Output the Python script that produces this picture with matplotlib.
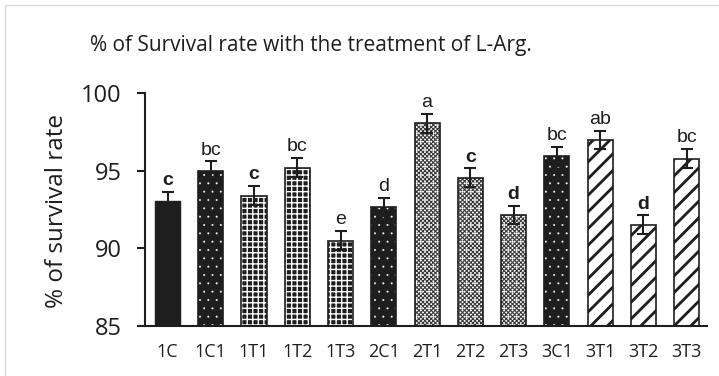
import matplotlib
matplotlib.use("Agg")
import matplotlib.pyplot as plt
from matplotlib.patches import Rectangle

plt.rcParams['font.family'] = ['Open Sans', 'DejaVu Sans']

# Survival data for each treatment group
groups = ["1C", "1C1", "1T1", "1T2", "1T3", "2C1", "2T1", "2T2", "2T3",
          "3C1", "3T1", "3T2", "3T3"]
survival = [93.05, 95.0, 93.4, 95.2, 90.5, 92.65, 98.05, 94.55, 92.15,
            95.92, 96.98, 91.52, 95.78]
errors = [0.6, 0.6, 0.6, 0.6, 0.6, 0.6, 0.62, 0.6, 0.57,
          0.6, 0.6, 0.6, 0.6]
letters = ["c", "bc", "c", "bc", "e", "d", "a", "c", "d",
           "bc", "ab", "d", "bc"]
bold_letters = [True, False, True, False, False, False, False, True, True,
                False, False, True, False]

# fill style per group: solid, dark-dotted, squares, gray-checker, stripes
styles = ["solid", "darkdot", "squares", "squares", "squares", "darkdot",
          "checker", "checker", "checker", "darkdot", "stripes", "stripes",
          "stripes"]

fig = plt.figure(figsize=(7.19, 3.76), dpi=100)
ax = fig.add_axes([0.2017, 0.133, 0.9833 - 0.2017, 0.7527 - 0.133])

# light chart border
fig.patches.append(Rectangle((5 / 719, -0.1), 1.2, 1.1 - 5 / 376,
                             transform=fig.transFigure, fill=False,
                             edgecolor="#d9d9d9", linewidth=1.0))

base = 85
width = 0.58
x = list(range(len(groups)))
heights = [v - base for v in survival]

for i, st in enumerate(styles):
    h = heights[i]
    if st == "solid":
        ax.bar(i, h, width, bottom=base, color="#1e1e1e", edgecolor="#1e1e1e",
               linewidth=1.0, zorder=2)
        continue
    if st == "darkdot":
        with plt.rc_context({"hatch.linewidth": 0.2}):
            ax.bar(i, h, width, bottom=base, color="#1e1e1e", hatch="..",
                   edgecolor="white", linewidth=0, zorder=2)
    elif st == "squares":
        with plt.rc_context({"hatch.linewidth": 1.0}):
            ax.bar(i, h, width, bottom=base, color="#1e1e1e", hatch="+++",
                   edgecolor="white", linewidth=0, zorder=2)
    elif st == "checker":
        with plt.rc_context({"hatch.linewidth": 0.8}):
            ax.bar(i, h, width, bottom=base, color="white", hatch="xxxxxxxx",
                   edgecolor="#3a3a3a", linewidth=0, zorder=2)
        with plt.rc_context({"hatch.linewidth": 0.3}):
            ax.bar(i, h, width, bottom=base, color="none", hatch="..",
                   edgecolor="white", linewidth=0, zorder=2)
    elif st == "stripes":
        with plt.rc_context({"hatch.linewidth": 2.0}):
            ax.bar(i, h, width, bottom=base, color="white", hatch="//",
                   edgecolor="#1e1e1e", linewidth=0, zorder=2)
    # outline
    ax.bar(i, h, width, bottom=base, color="none", edgecolor="#1e1e1e",
           linewidth=1.2, zorder=3)

ax.errorbar(x, survival, yerr=errors, fmt="none", ecolor="#1e1e1e",
            elinewidth=1.5, capsize=4, capthick=1.5, zorder=4)

for i in x:
    ax.annotate(letters[i], (i, survival[i] + errors[i]),
                xytext=(0, 2), textcoords="offset points",
                ha="center", va="bottom", fontsize=14,
                family=["Liberation Sans", "DejaVu Sans"],
                fontweight="bold" if bold_letters[i] else "normal",
                color="#1e1e1e", zorder=5)

ax.set_ylim(85, 100)
ax.set_xlim(-0.52, 12.47)
ax.set_yticks([85, 90, 95, 100])
ax.set_xticks(x)
ax.set_xticklabels(groups, fontsize=13)
ax.tick_params(axis="y", labelsize=17, length=6, width=1.5, pad=11,
               colors="#1e1e1e")
ax.tick_params(axis="x", length=0, pad=12, colors="#1e1e1e")
for s in ["top", "right"]:
    ax.spines[s].set_visible(False)
ax.spines["left"].set_linewidth(1.5)
ax.spines["bottom"].set_linewidth(1.5)
ax.spines["left"].set_color("#1e1e1e")
ax.spines["bottom"].set_color("#1e1e1e")

fig.text(311 / 719, 1 - 45 / 376,
         "% of Survival rate with the treatment of L-Arg.",
         ha="center", va="center", fontsize=15, color="#1e1e1e")
fig.text(57 / 719, 1 - 211 / 376, "% of survival rate", rotation=90,
         ha="center", va="center", fontsize=17.5, color="#1e1e1e")

fig.savefig("out.png", dpi=100, facecolor="white")
